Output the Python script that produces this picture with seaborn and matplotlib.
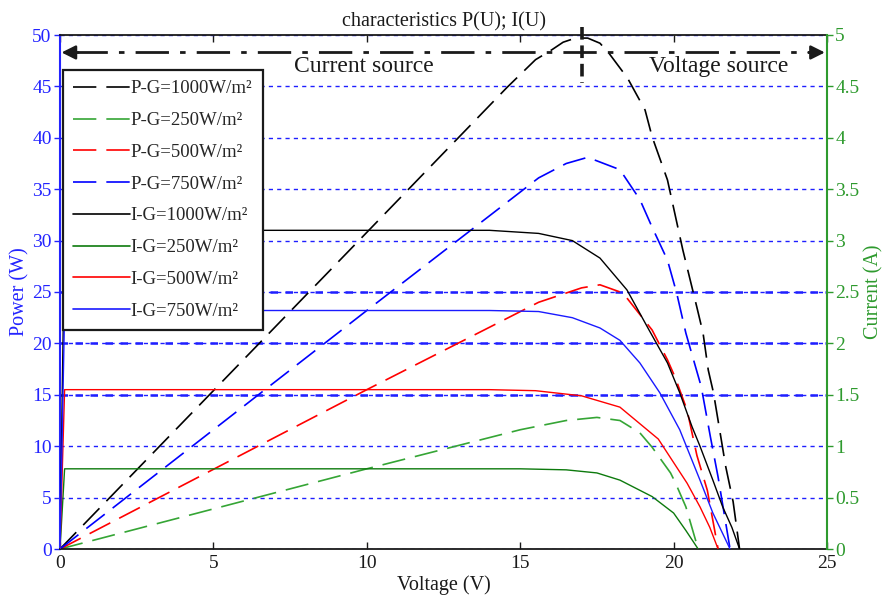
import numpy as np
import pandas as pd
import matplotlib
matplotlib.use("Agg")
import matplotlib.pyplot as plt
import seaborn as sns
from matplotlib.lines import Line2D
from matplotlib.ticker import FuncFormatter, MultipleLocator

# ---------------- data ----------------
# Power curves P(U) [W]
v_p1000 = [0, 5, 10, 14.57, 15.5, 16.0, 16.4, 16.8, 17.2, 17.6, 17.9, 18.5, 19.07, 19.3, 19.8,
           20.3, 20.76, 20.96, 21.13, 21.3, 21.5, 21.7, 21.94, 22.15]
p_p1000 = [0, 15.4, 30.8, 44.9, 47.6, 48.5, 49.3, 49.7, 49.7, 49.2, 48.2, 45.8, 42.7, 40.1, 35.9,
           29.1, 23.5, 21.0, 17.4, 15.2, 11.6, 8.0, 4.6, 0]

v_p250 = [0, 5, 10, 15, 16.5, 17.5, 18.25, 18.9, 19.3, 19.9, 20.05, 20.4, 20.8]
p_p250 = [0, 3.9, 7.8, 11.6, 12.5, 12.8, 12.5, 11.3, 9.9, 7.4, 6.5, 4.1, 0]

v_p500 = [0, 5, 10, 15.6, 17.0, 17.6, 18.35, 19.3, 19.8, 20.05, 20.44, 20.76, 21.1, 21.45]
p_p500 = [0, 7.75, 15.5, 24.0, 25.4, 25.7, 24.9, 21.3, 18.4, 16.7, 13.5, 9.1, 5.7, 0]

v_p750 = [0, 5, 10, 15.6, 16.5, 17.2, 18.25, 18.9, 19.3, 19.8, 20.1, 20.4, 20.9, 21.2, 21.45, 21.84]
p_p750 = [0, 11.6, 23.2, 36.1, 37.5, 38.1, 36.9, 34.0, 31.3, 28.1, 24.9, 21.0, 15.8, 10.9, 7.0, 0]

# Current curves I(U) [A]
v_i1000 = [0, 0.15, 5, 10, 14, 15.6, 16.7, 17.6, 18.48, 19.2, 19.8, 20.2, 20.6, 20.86,
           21.28, 21.6, 21.9, 22.15]
i_i1000 = [0, 3.1, 3.1, 3.1, 3.1, 3.07, 3.0, 2.83, 2.52, 2.13, 1.81, 1.52, 1.19, 1.0,
           0.67, 0.41, 0.21, 0]

v_i250 = [0, 0.15, 5, 10, 15, 16.5, 17.5, 18.25, 19.3, 20.0, 20.4, 20.8]
i_i250 = [0, 0.78, 0.78, 0.78, 0.78, 0.77, 0.74, 0.67, 0.51, 0.35, 0.18, 0]

v_i500 = [0, 0.15, 5, 10, 14, 15.5, 17.0, 18.25, 19.5, 20.44, 20.86, 21.18, 21.45]
i_i500 = [0, 1.55, 1.55, 1.55, 1.55, 1.54, 1.49, 1.38, 1.07, 0.64, 0.41, 0.21, 0]

v_i750 = [0, 0.15, 5, 10, 14, 15.6, 16.7, 17.6, 18.25, 18.9, 19.55, 20.2, 20.86, 21.28, 21.84]
i_i750 = [0, 2.32, 2.32, 2.32, 2.32, 2.31, 2.25, 2.15, 2.03, 1.81, 1.52, 1.16, 0.67, 0.35, 0]

p_labels = ["P-G=1000W/m²", "P-G=250W/m²", "P-G=500W/m²", "P-G=750W/m²"]
i_labels = ["I-G=1000W/m²", "I-G=250W/m²", "I-G=500W/m²", "I-G=750W/m²"]

title_text = "characteristics P(U); I(U)"
x_label = "Voltage (V)"
y_left_label = "Power (W)"
y_right_label = "Current (A)"
left_text = "Current source"
right_text = "Voltage source"
mpp_voltage = 17.0
arrow_level = 48.3

# ---------------- styling ----------------
sns.set_theme(style="white")
plt.rcParams["font.family"] = ["Liberation Serif", "DejaVu Serif"]

BLUE_AX = "#2323ff"
GREEN_AX = "#2e9a2e"
p_colors = ["#000000", "#35a535", "#ff0000", "#0000ff"]
i_colors = ["#000000", "#0d7a0d", "#ff0000", "#1a1aff"]
dash = (0, (14, 6))
TICK_FS = 14

fig = plt.figure(figsize=(8.88, 6), dpi=100)
ax = fig.add_axes([60 / 888, 51 / 600, 767 / 888, 514 / 600])
ax2 = ax.twinx()

# grid (left axis)
ax.set_ylim(0, 50)
ax.set_xlim(0, 25)
ax.yaxis.set_major_locator(MultipleLocator(5))
ax.xaxis.set_major_locator(MultipleLocator(5))
ax.yaxis.grid(True, color="#1f1fff", linestyle=(0, (3, 3)), linewidth=1.0)
ax.xaxis.grid(False)
for yv in (15, 20, 25):
    ax.axhline(yv, color="#1f1fff", linestyle=(0, (3, 3)), linewidth=1.8, zorder=0.5)

# power curves
p_series = [(v_p1000, p_p1000), (v_p250, p_p250), (v_p500, p_p500), (v_p750, p_p750)]
for (vv, pp), c, lab in zip(p_series, p_colors, p_labels):
    df = pd.DataFrame({"V": vv, "P": pp})
    sns.lineplot(data=df, x="V", y="P", ax=ax, color=c, linestyle=dash, linewidth=1.2,
                 estimator=None, sort=False, legend=False)

# current curves
i_series = [(v_i1000, i_i1000), (v_i250, i_i250), (v_i500, i_i500), (v_i750, i_i750)]
for (vv, ii), c, lab in zip(i_series, i_colors, i_labels):
    df = pd.DataFrame({"V": vv, "I": ii})
    sns.lineplot(data=df, x="V", y="I", ax=ax2, color=c, linestyle="-", linewidth=1.0,
                 estimator=None, sort=False, legend=False)

ax2.set_ylim(0, 5)
ax2.yaxis.set_major_locator(MultipleLocator(0.5))
ax2.yaxis.set_major_formatter(FuncFormatter(lambda v, p: f"{v:g}"))
ax2.grid(False)

# labels
ax.set_xlabel(x_label, fontsize=14.5, color="k", labelpad=3)
ax.set_ylabel(y_left_label, fontsize=14.5, color=BLUE_AX, labelpad=2)
ax2.set_ylabel(y_right_label, fontsize=14.5, color=GREEN_AX, labelpad=3, rotation=90)
ax.set_title(title_text, fontsize=14.5, color="k", pad=6)

# ticks & spines
ax.tick_params(axis="x", direction="in", top=True, bottom=True, length=5, width=1,
               labelsize=TICK_FS, colors="k", pad=4)
ax.tick_params(axis="y", direction="out", length=4, width=1, labelsize=TICK_FS,
               colors=BLUE_AX, pad=2)
ax2.tick_params(axis="y", direction="out", length=4, width=1, labelsize=TICK_FS,
                colors=GREEN_AX, pad=2)
for s in ("top", "bottom"):
    ax.spines[s].set_color("k")
    ax.spines[s].set_linewidth(1.3)
ax.spines["left"].set_color(BLUE_AX)
ax.spines["left"].set_linewidth(1.5)
ax.spines["right"].set_visible(False)
ax2.spines["right"].set_color(GREEN_AX)
ax2.spines["right"].set_linewidth(1.5)
for s in ("left", "top", "bottom"):
    ax2.spines[s].set_visible(False)

# annotations: current / voltage source
ax2.plot([0.45, 24.55], [arrow_level / 10] * 2, color="k", linewidth=2.0,
         linestyle=(0, (12, 4, 2, 4)), zorder=5)
arrow_kw = dict(arrowstyle="-|>,head_length=0.6,head_width=0.3", mutation_scale=14,
                color="k", lw=1.8, shrinkA=0, shrinkB=0)
ax2.annotate("", xy=(0.05, arrow_level / 10), xytext=(0.6, arrow_level / 10), arrowprops=arrow_kw)
ax2.annotate("", xy=(24.93, arrow_level / 10), xytext=(24.4, arrow_level / 10), arrowprops=arrow_kw)
ax2.text(9.9, 4.69, left_text, fontsize=17, ha="center", va="center", color="k")
ax2.text(21.48, 4.69, right_text, fontsize=17, ha="center", va="center", color="k")
ax2.plot([mpp_voltage, mpp_voltage], [5.08, 4.53], color="k", linewidth=2.6,
         linestyle=(0, (3.5, 1.6)), clip_on=False, zorder=6)

# legend
handles = [Line2D([], [], color=c, linestyle=dash, linewidth=1.2) for c in p_colors]
handles += [Line2D([], [], color=c, linestyle="-", linewidth=1.2) for c in i_colors]
leg = ax2.legend(handles, p_labels + i_labels, loc="upper left",
                 bbox_to_anchor=(0.004, 0.932), borderaxespad=0, fontsize=13.5,
                 handlelength=3.0, handletextpad=0.05, labelspacing=0.78,
                 borderpad=0.55, fancybox=False, framealpha=1, edgecolor="k")
leg.get_frame().set_linewidth(1.6)
leg.set_zorder(10)

fig.savefig("out.png", dpi=100)
